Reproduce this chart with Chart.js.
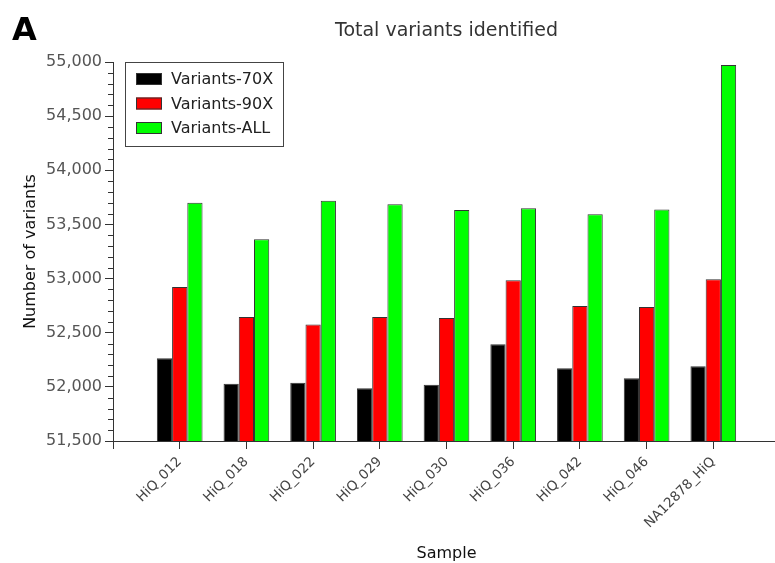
<!DOCTYPE html>
<html lang="en">
<head>
<meta charset="utf-8">
<title>Total variants identified</title>
<script src="https://cdn.jsdelivr.net/npm/chart.js@4.4.1/dist/chart.umd.min.js"></script>
<style>
    html, body { margin: 0; padding: 0; background: #ffffff; overflow: hidden; }
    .wrap { position: relative; width: 775px; height: 563px; overflow: hidden; }
    .panel-label {
        position: absolute; left: 12px; top: 10px;
        font: bold 32px "DejaVu Sans", sans-serif; color: #000;
    }
</style>
</head>
<body>
<div class="wrap">
    <!-- the plot runs a few pixels past the right edge, as in the original -->
    <canvas id="variantsChart" width="780" height="563"></canvas>
    <div class="panel-label">A</div>
</div>
<script>
// --- Data ---
const samples = ['HiQ_012', 'HiQ_018', 'HiQ_022', 'HiQ_029', 'HiQ_030', 'HiQ_036', 'HiQ_042', 'HiQ_046', 'NA12878_HiQ'];
const variants70X = [52264, 52029, 52038, 51986, 52020, 52393, 52171, 52079, 52190];
const variants90X = [52922, 52645, 52577, 52645, 52636, 52984, 52747, 52737, 52993];
const variantsAll = [53701, 53362, 53719, 53686, 53633, 53649, 53593, 53639, 54972];
const yMin = 51500;
const yMax = 55000;
const yStep = 500;
const yMinorStep = 100;

document.addEventListener('DOMContentLoaded', function () {

    // axis runs from 0 to 10 with the samples at 1..9
    const pad = arr => [null, ...arr, null];
    const labels = ['', ...samples, ''];

    // --- Minor ticks on the y axis ---
    const minorTicks = {
        id: 'minorTicks',
        afterDraw(chart) {
            const y = chart.scales.y;
            const c = chart.ctx;
            c.save();
            c.strokeStyle = '#333';
            c.lineWidth = 1;
            for (let v = yMin; v <= yMax; v += yMinorStep) {
                if (v % yStep === 0) continue;
                const py = Math.round(y.getPixelForValue(v)) + 0.5;
                c.beginPath();
                c.moveTo(y.right - 5, py);
                c.lineTo(y.right, py);
                c.stroke();
            }
            c.restore();
        }
    };

    // --- Boxed legend inside the plot ---
    const boxLegend = {
        id: 'boxLegend',
        afterDraw(chart) {
            const area = chart.chartArea;
            const c = chart.ctx;
            const x = area.left + 12;
            const top = area.top;
            c.save();
            c.fillStyle = '#ffffff';
            c.fillRect(x, top, 158, 84);
            c.strokeStyle = '#444';
            c.lineWidth = 1;
            c.strokeRect(x + 0.5, top + 0.5, 158, 84);
            c.font = '16px "DejaVu Sans", sans-serif';
            c.textBaseline = 'middle';
            chart.data.datasets.forEach((ds, i) => {
                const cy = top + 17 + i * 24.5;
                c.fillStyle = ds.backgroundColor;
                c.fillRect(x + 11, cy - 6, 26, 12);
                c.strokeStyle = '#333';
                c.strokeRect(x + 11.5, cy - 5.5, 25, 11);
                c.fillStyle = '#222';
                c.fillText(ds.label, x + 46, cy + 1);
            });
            c.restore();
        }
    };

    const barStyle = { borderColor: '#333', borderWidth: 1, barPercentage: 1, categoryPercentage: 0.685 };

    new Chart(document.getElementById('variantsChart'), {
        type: 'bar',
        data: {
            labels: labels,
            datasets: [
                { label: 'Variants-70X', data: pad(variants70X), backgroundColor: '#000000', ...barStyle },
                { label: 'Variants-90X', data: pad(variants90X), backgroundColor: '#ff0000', ...barStyle },
                { label: 'Variants-ALL', data: pad(variantsAll), backgroundColor: '#00ff00', ...barStyle }
            ]
        },
        options: {
            responsive: false,
            devicePixelRatio: 1,
            animation: false,
            layout: { padding: 0 },
            plugins: {
                legend: { display: false },
                tooltip: { enabled: false },
                title: {
                    display: true,
                    text: 'Total variants identified',
                    fullSize: false,
                    color: '#333',
                    font: { family: 'DejaVu Sans', size: 19, weight: 'normal' },
                    padding: { top: 20, bottom: 19.2 }
                }
            },
            scales: {
                x: {
                    offset: false,
                    grid: { offset: false, drawOnChartArea: false, tickLength: 8, color: '#333' },
                    border: { color: '#333' },
                    ticks: {
                        autoSkip: false,
                        minRotation: 45,
                        maxRotation: 45,
                        padding: 5,
                        color: '#444',
                        font: { family: 'DejaVu Sans', size: 13.5 }
                    },
                    title: {
                        display: true,
                        text: 'Sample',
                        color: '#111',
                        font: { family: 'DejaVu Sans', size: 16 },
                        padding: { top: 1, bottom: 0 }
                    },
                    afterFit(scale) {
                        scale.height = 122;
                        scale.paddingLeft = 0;
                        scale.paddingRight = 0;
                    }
                },
                y: {
                    min: yMin,
                    max: yMax,
                    grid: { drawOnChartArea: false, tickLength: 8, color: '#333' },
                    border: { color: '#333' },
                    ticks: {
                        stepSize: yStep,
                        padding: 3,
                        color: '#555',
                        font: { family: 'DejaVu Sans', size: 16 },
                        callback: value => value.toLocaleString('en-US')
                    },
                    title: {
                        display: true,
                        text: 'Number of variants',
                        color: '#111',
                        font: { family: 'DejaVu Sans', size: 16 },
                        padding: { top: 21, bottom: 0 }
                    },
                    afterFit(scale) { scale.width = 113; }
                }
            }
        },
        plugins: [minorTicks, boxLegend]
    });

});
</script>
</body>
</html>
